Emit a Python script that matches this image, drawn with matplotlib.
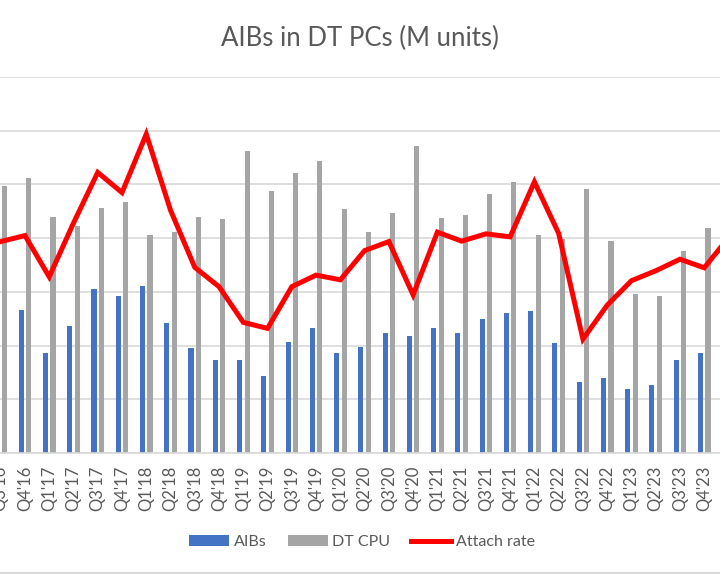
import matplotlib.pyplot as plt
import numpy as np

plt.rcParams['font.family'] = ['Lato', 'DejaVu Sans']

quarters = ["Q3'16", "Q4'16", "Q1'17", "Q2'17", "Q3'17", "Q4'17", "Q1'18", "Q2'18",
            "Q3'18", "Q4'18", "Q1'19", "Q2'19", "Q3'19", "Q4'19", "Q1'20", "Q2'20",
            "Q3'20", "Q4'20", "Q1'21", "Q2'21", "Q3'21", "Q4'21", "Q1'22", "Q2'22",
            "Q3'22", "Q4'22", "Q1'23", "Q2'23", "Q3'23", "Q4'23", "Q1'24"]

# M units
aibs = [12.5, 13.3, 9.3, 11.8, 15.3, 14.6, 15.5, 12.1, 9.8, 8.7,
        8.7, 7.2, 10.3, 11.6, 9.3, 9.9, 11.2, 10.9, 11.6, 11.2,
        12.5, 13.0, 13.2, 10.2, 6.6, 7.0, 6.0, 6.3, 8.7, 9.3]
dt_cpu = [24.9, 25.6, 22.0, 21.1, 22.8, 23.4, 20.3, 20.6, 22.0, 21.8,
          28.1, 24.4, 26.1, 27.2, 22.7, 20.6, 22.3, 28.6, 21.9, 22.2,
          24.1, 25.2, 20.3, 19.9, 24.6, 19.7, 14.8, 14.6, 18.8, 20.9]
# attach rate, %
attach = [49.2, 50.6, 41.0, 53.5, 65.3, 60.6, 74.2, 56.5, 43.2, 38.7,
          30.4, 29.0, 38.7, 41.4, 40.3, 47.1, 49.2, 36.8, 51.4, 49.3,
          51.0, 50.3, 63.1, 51.1, 26.5, 34.4, 40.1, 42.4, 45.1, 43.1, 50.1]

grey_txt = '#595959'
grid_c = '#d9d9d9'

fig = plt.figure(figsize=(7.2, 5.74), dpi=100)
ax = fig.add_axes([0, 1 - 453 / 574, 1, (453 - 77) / 574])

x = np.arange(len(quarters))
xb = np.arange(len(aibs))
w = 0.21
ax.bar(xb - 0.155, aibs, w, color='#4472C4', label='AIBs', zorder=2)
ax.bar(xb + 0.155, dt_cpu, w, color='#A5A5A5', label='DT CPU', zorder=2)

ax.set_ylim(0, 35)
ax.set_yticks(np.arange(0, 36, 5))
ax.yaxis.grid(True, color=grid_c, linewidth=1.2, zorder=0)
ax.set_axisbelow(True)
ax.set_xlim(-0.029, 29.65)
ax.set_xticks(x)
ax.set_xticklabels(quarters, rotation=90, fontsize=12, color=grey_txt)
ax.tick_params(axis='x', length=0, pad=9)
ax.tick_params(axis='y', length=0, labelleft=False)
for s in ['top', 'left', 'right']:
    ax.spines[s].set_visible(False)
ax.spines['bottom'].set_color(grid_c)
ax.spines['bottom'].set_linewidth(1.2)

ax2 = ax.twinx()
ax2.plot(x, attach, color='#FF0000', linewidth=3.6, label='Attach rate',
         solid_joinstyle='miter', zorder=3)
ax2.set_ylim(0, 87.5)
ax2.set_xlim(-0.029, 29.65)
ax2.axis('off')

fig.text(0.5, 1 - 38 / 574, 'AIBs in DT PCs (M units)', ha='center', va='center',
         fontsize=18.5, color=grey_txt)

h1, l1 = ax.get_legend_handles_labels()
h2, l2 = ax2.get_legend_handles_labels()
fig.legend(h1 + h2, l1 + l2, loc='center', bbox_to_anchor=(0.503, 1 - 542 / 574),
           ncol=3, frameon=False, fontsize=11.5, labelcolor=grey_txt,
           handlelength=2.5, handleheight=0.7, handletextpad=0.3, columnspacing=1.3)

# chart border at the bottom
fig.add_artist(plt.Line2D([0, 1], [1.5 / 574, 1.5 / 574], color=grid_c, linewidth=2.2,
                          transform=fig.transFigure))

fig.savefig('out.png', dpi=100)
